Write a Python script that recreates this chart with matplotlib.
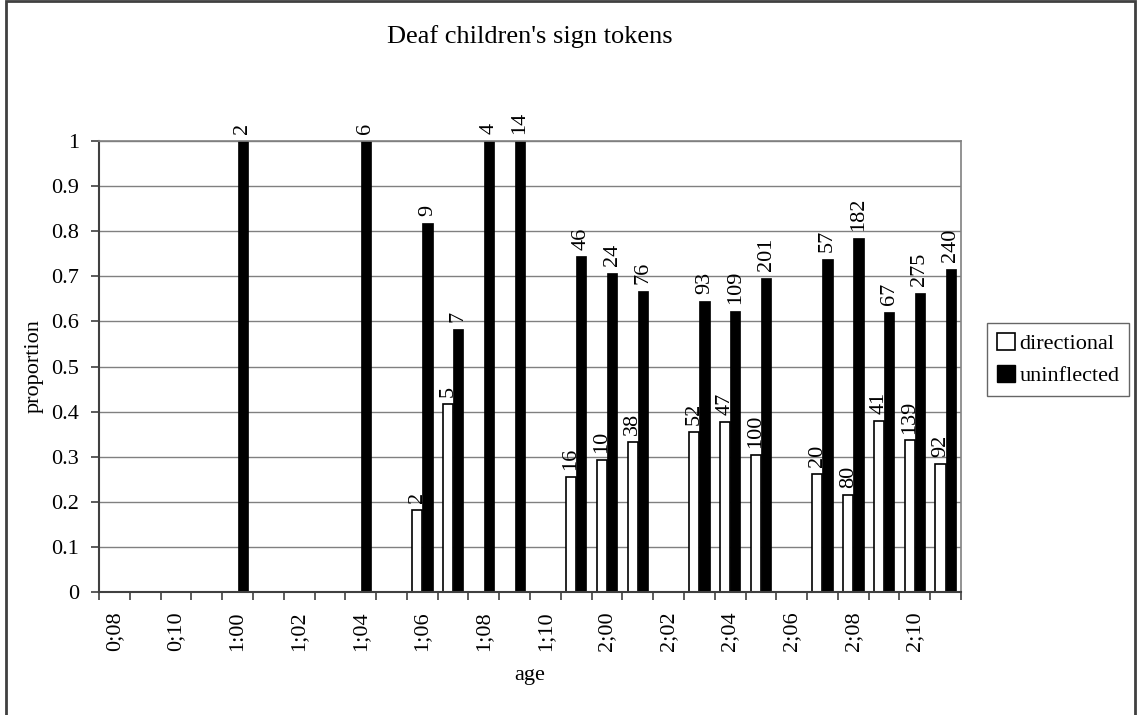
import matplotlib.pyplot as plt
import matplotlib.patches as mpatches
import numpy as np

plt.rcParams['font.family'] = ['Liberation Serif', 'DejaVu Serif']

### Data

ages = ['0;08', '0;09', '0;10', '0;11', '1:00', '1;01', '1;02', '1;03',
        '1;04', '1;05', '1;06', '1;07', '1;08', '1;09', '1;10', '1;11',
        '2;00', '2;01', '2;02', '2;03', '2;04', '2;05', '2;06', '2;07',
        '2;08', '2;09', '2;10', '2;11']

nan = np.nan
directional = [nan, nan, nan, nan, nan, nan, nan, nan,
               nan, nan, 0.181, 0.416, nan, nan, nan, 0.256,
               0.292, 0.332, nan, 0.354, 0.376, 0.304, nan, 0.261,
               0.216, 0.380, 0.336, 0.283]
uninflected = [nan, nan, nan, nan, 1.0, nan, nan, nan,
               1.0, nan, 0.819, 0.584, 1.0, 1.0, nan, 0.744,
               0.708, 0.668, nan, 0.646, 0.624, 0.696, nan, 0.739,
               0.784, 0.620, 0.664, 0.717]

# token counts printed above the bars
directional_n = [None, None, None, None, None, None, None, None,
                 None, None, 2, 5, None, None, None, 16,
                 10, 38, None, 52, 47, 100, None, 20,
                 80, 41, 139, 92]
uninflected_n = [None, None, None, None, 2, None, None, None,
                 6, None, 9, 7, 4, 14, None, 46,
                 24, 76, None, 93, 109, 201, None, 57,
                 182, 67, 275, 240]

### Set up viewer

fig = plt.figure(figsize=(11.38, 7.15), dpi=100)
ax = fig.add_axes([0.0870, 0.1720, 0.7575, 0.6308])

x = np.arange(len(ages))
w = 1 / 3

ax.yaxis.grid(True, color='#808080', linewidth=1)
ax.set_axisbelow(True)

ax.bar(x - w / 2, directional, w, color='white', edgecolor='black', linewidth=1.2, zorder=2)
ax.bar(x + w / 2, uninflected, w, color='black', edgecolor='black', linewidth=0.5, zorder=2)

# count labels
for xi, v, n in zip(x - w / 2, directional, directional_n):
    if n is not None:
        ax.annotate(str(n), (xi, v), xytext=(0, 5), textcoords='offset points',
                    rotation=90, ha='center', va='bottom', fontsize=16)
for xi, v, n in zip(x + w / 2, uninflected, uninflected_n):
    if n is not None:
        ax.annotate(str(n), (xi, v), xytext=(0, 5), textcoords='offset points',
                    rotation=90, ha='center', va='bottom', fontsize=16)

### Finalize viewer

ax.set_xlim(-0.5, len(ages) - 0.5)
ax.set_ylim(0, 1)

ax.set_xticks(x)
ax.set_xticklabels([a if i % 2 == 0 else '' for i, a in enumerate(ages)], rotation=90)
ax.set_xticks(np.arange(len(ages) + 1) - 0.5, minor=True)
ax.tick_params('x', which='major', length=0, pad=14, labelsize=16)
ax.tick_params('x', which='minor', length=6, width=1.2, color='#404040', direction='out')

ax.set_yticks(np.arange(0, 1.01, 0.1))
ax.yaxis.set_major_formatter(plt.FormatStrFormatter('%g'))
ax.tick_params('y', length=6, width=1.2, color='#404040', pad=8.5, labelsize=16)

for side in ['left', 'bottom']:
    ax.spines[side].set_color('#404040')
    ax.spines[side].set_linewidth(1.5)
for side in ['top', 'right']:
    ax.spines[side].set_color('#808080')
    ax.spines[side].set_linewidth(1.2)

ax.set_xlabel('age', fontsize=16, labelpad=11)
ax.set_ylabel('proportion', fontsize=16, labelpad=5)

fig.text(0.4657, 1 - 37 / 715, "Deaf children's sign tokens", ha='center', va='center', fontsize=19)

handles = [mpatches.Patch(facecolor='white', edgecolor='black', linewidth=1.2),
           mpatches.Patch(facecolor='black', edgecolor='black')]
leg = fig.legend(handles, ['directional', 'uninflected'], loc='center left',
                 bbox_to_anchor=(0.8673, 0.497), fontsize=16, fancybox=False,
                 handlelength=0.8, handleheight=0.8, handletextpad=0.2,
                 labelspacing=0.5, borderpad=0.45, borderaxespad=0)
leg.get_frame().set_edgecolor('#404040')
leg.get_frame().set_linewidth(1)

# chart border
fig.patches.append(mpatches.Rectangle((0.005, -0.01), 0.9925, 1.0085, transform=fig.transFigure,
                                      fill=False, edgecolor='#404040', linewidth=2))

fig.savefig('out.png')
plt.close(fig)
